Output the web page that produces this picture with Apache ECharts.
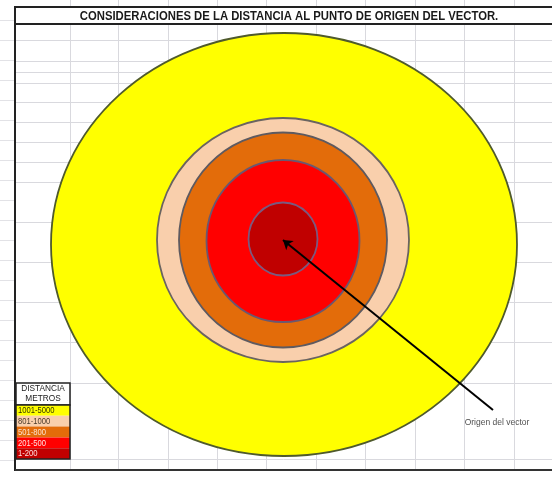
<!DOCTYPE html>
<html>
<head>
<meta charset="utf-8">
<script src="https://cdn.jsdelivr.net/npm/echarts@6/dist/echarts.min.js"></script>
<style>
html,body{margin:0;padding:0;background:#fff;}
#chart{width:552px;height:477px;}
</style>
</head>
<body>
<div id="chart"></div>
<script>
// ---- data (diagram units, origin = point of origin of the vector) ----
const titleText = 'CONSIDERACIONES DE LA DISTANCIA AL PUNTO DE ORIGEN DEL VECTOR.';
const legendHeader = ['DISTANCIA', 'METROS'];
const categories = ['1001-5000', '801-1000', '501-800', '201-500', '1-200'];
const ringCenterX = [1, 0, 0, 0, 0];
const ringCenterY = [-4.5, 0, 0, -1, 1];
const ringRadiusX = [233, 126, 104, 76.5, 34.5];
const ringRadiusY = [211.5, 122, 107.5, 81, 36.5];
const vectorStart = [210, -170];
const vectorEnd = [0, 0];
const vectorLabel = 'Origen del vector';
const vectorLabelPoint = [214, -183];

// ---- styles ----
const ringColors = ['#FFFF00', '#F9CFAC', '#E36C0A', '#FF0000', '#C00000'];
const ringStrokes = ['#4f5a2c', '#6a6460', '#5e5a60', '#6a5870', '#7a5a80'];
const legendTextColors = ['#333300', '#4a3a2a', '#fbe3d0', '#ffe0e0', '#ffe0e0'];
const gridColor = '#d9d9de';

const chart = echarts.init(document.getElementById('chart'), null, {renderer: 'canvas'});

const ringData = categories.map((c, i) => ({
  name: c,
  value: [ringCenterX[i], ringCenterY[i], ringRadiusX[i], ringRadiusY[i]],
  itemStyle: {color: ringColors[i]}
}));

// spreadsheet backdrop
const colX = [70, 118, 168, 217, 266, 316, 365, 415, 464, 514];
const rowY = [40, 61, 72, 83, 102, 122, 142, 162, 182, 222, 262, 302, 342, 383, 459];
const graphics = [];
colX.forEach(x => {
  graphics.push({type: 'line', z: -10, shape: {x1: x + 0.5, y1: 24, x2: x + 0.5, y2: 470}, style: {stroke: gridColor, lineWidth: 1}});
  graphics.push({type: 'line', z: -10, shape: {x1: x + 0.5, y1: 0, x2: x + 0.5, y2: 6}, style: {stroke: gridColor, lineWidth: 1}});
});
rowY.forEach(y => {
  graphics.push({type: 'line', z: -10, shape: {x1: 15, y1: y + 0.5, x2: 552, y2: y + 0.5}, style: {stroke: gridColor, lineWidth: 1}});
});
for (let y = 20; y < 477; y += 20) {
  graphics.push({type: 'line', z: -10, shape: {x1: 0, y1: y + 0.5, x2: 14, y2: y + 0.5}, style: {stroke: '#e2e2e6', lineWidth: 1}});
}
// frame + title box
graphics.push({type: 'line', z: 50, shape: {x1: 15, y1: 7, x2: 552, y2: 7}, style: {stroke: '#222', lineWidth: 2}});
graphics.push({type: 'line', z: 50, shape: {x1: 15, y1: 24, x2: 552, y2: 24}, style: {stroke: '#222', lineWidth: 2}});
graphics.push({type: 'line', z: 50, shape: {x1: 15, y1: 6, x2: 15, y2: 471}, style: {stroke: '#222', lineWidth: 2}});
graphics.push({type: 'line', z: 50, shape: {x1: 15, y1: 470, x2: 552, y2: 470}, style: {stroke: '#333', lineWidth: 2}});
graphics.push({type: 'text', z: 50, x: 289, y: 16, scaleX: 0.87, style: {
  text: titleText, textAlign: 'center', textVerticalAlign: 'middle',
  font: 'bold 13px "Liberation Sans", Arial, sans-serif', fill: '#1a1a1a'}});

// legend table
const lgX = 16, lgW = 54, lgTop = 383, headH = 22, rowH = 10.8;
graphics.push({type: 'rect', z: 60, shape: {x: lgX, y: lgTop, width: lgW, height: headH}, style: {fill: '#fff', stroke: '#222', lineWidth: 1.5}});
legendHeader.forEach((t, i) => {
  graphics.push({type: 'text', z: 61, x: lgX + lgW / 2, y: lgTop + 6 + i * 10, scaleX: 0.92, style: {
    text: t, textAlign: 'center', textVerticalAlign: 'middle',
    font: '9px "Liberation Sans", Arial, sans-serif', fill: '#222'}});
});
categories.forEach((c, i) => {
  const y = lgTop + headH + i * rowH;
  graphics.push({type: 'rect', z: 60, shape: {x: lgX, y: y, width: lgW, height: rowH}, style: {fill: ringColors[i]}});
  graphics.push({type: 'text', z: 61, x: lgX + 2, y: y + rowH / 2 + 0.5, scaleX: 0.9, style: {
    text: c, textAlign: 'left', textVerticalAlign: 'middle',
    font: '8.5px "Liberation Sans", Arial, sans-serif', fill: legendTextColors[i]}});
});
graphics.push({type: 'rect', z: 62, shape: {x: lgX, y: lgTop + headH, width: lgW, height: rowH * categories.length}, style: {fill: 'none', stroke: '#222', lineWidth: 1.5}});

const option = {
  backgroundColor: '#ffffff',
  animation: false,
  grid: {left: 0, right: 0, top: 0, bottom: 0},
  xAxis: {type: 'value', min: -283, max: 269, show: false},
  yAxis: {type: 'value', min: -237, max: 240, show: false},
  graphic: graphics,
  series: [
    {
      type: 'custom',
      coordinateSystem: 'cartesian2d',
      z: 2,
      data: ringData,
      renderItem: function (params, api) {
        const c = api.coord([api.value(0), api.value(1)]);
        const s = api.size([api.value(2), api.value(3)]);
        const i = params.dataIndex;
        return {
          type: 'ellipse',
          shape: {cx: c[0], cy: c[1], rx: s[0], ry: s[1]},
          style: {fill: ringColors[i], stroke: ringStrokes[i], lineWidth: 1.8}
        };
      }
    },
    {
      type: 'lines',
      coordinateSystem: 'cartesian2d',
      z: 5,
      symbol: ['none', 'arrow'],
      symbolSize: [0, 9],
      lineStyle: {color: '#000', width: 2, opacity: 1},
      data: [{coords: [vectorStart, vectorEnd]}]
    },
    {
      type: 'scatter',
      z: 5,
      symbolSize: 0,
      data: [vectorLabelPoint],
      label: {show: true, position: 'inside', formatter: vectorLabel,
        fontFamily: '"Liberation Sans", Arial, sans-serif', fontSize: 8.5, color: '#222'}
    }
  ]
};
chart.setOption(option);
</script>
</body>
</html>
